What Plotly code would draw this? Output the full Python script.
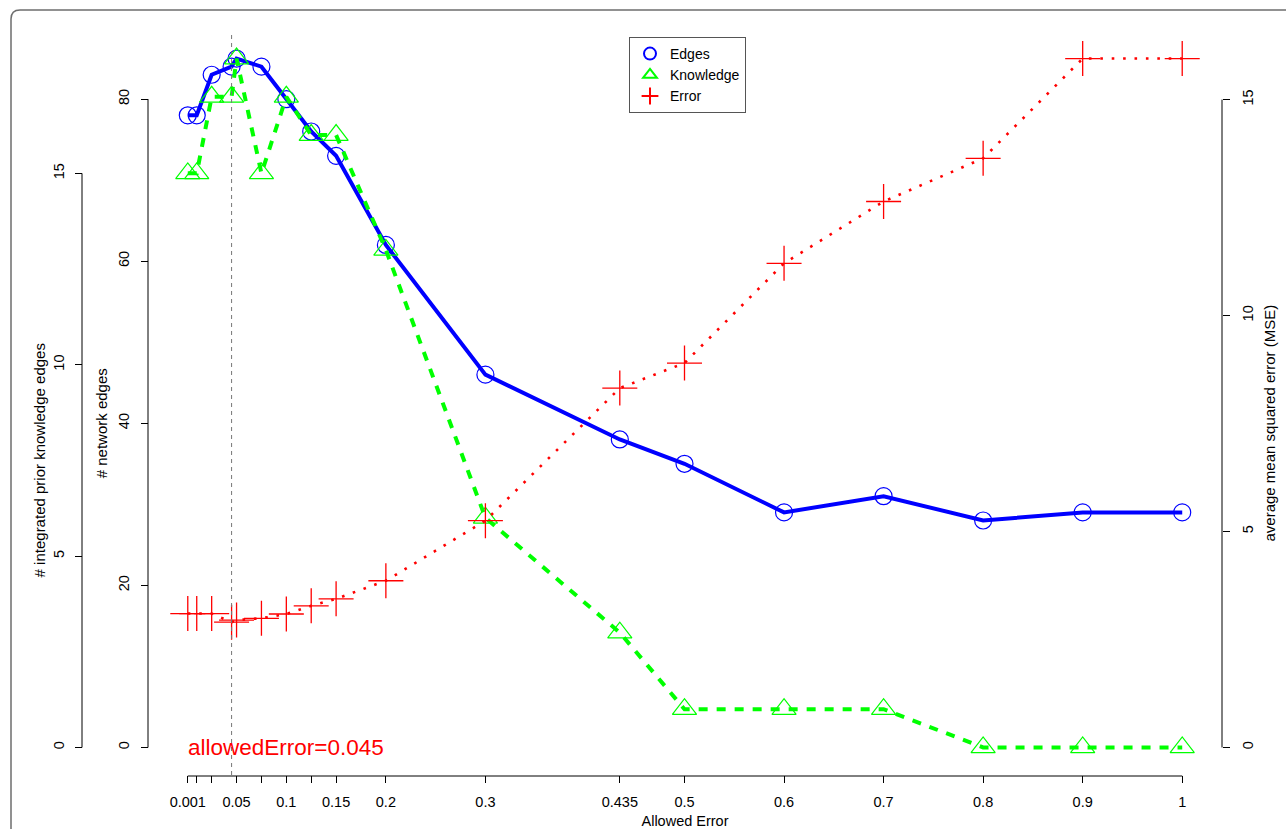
import plotly.graph_objects as go

# ---------------- data ----------------
allowed_error = [0.001, 0.01, 0.025, 0.045, 0.05, 0.075, 0.1, 0.125, 0.15, 0.2,
                 0.3, 0.435, 0.5, 0.6, 0.7, 0.8, 0.9, 1.0]
network_edges = [78, 78, 83, 84, 85, 84, 80, 76, 73, 62, 46, 38, 35, 29, 31, 28, 29, 29]
knowledge_edges = [15, 15, 17, 17, 18, 15, 17, 16, 16, 13, 6, 3, 1, 1, 1, 0, 0, 0]
mse = [3.10, 3.10, 3.10, 2.90, 2.95, 2.99, 3.09, 3.28, 3.44, 3.86,
       5.25, 8.32, 8.90, 11.21, 12.64, 13.64, 15.95, 15.95]

x_tick_vals = [0.001, 0.01, 0.025, 0.05, 0.075, 0.1, 0.125, 0.15, 0.2, 0.3,
               0.435, 0.5, 0.6, 0.7, 0.8, 0.9, 1.0]
x_tick_text = ["0.001", "", "", "0.05", "", "0.1", "", "0.15", "0.2", "0.3",
               "0.435", "0.5", "0.6", "0.7", "0.8", "0.9", "1"]
edges_ticks = [0, 20, 40, 60, 80]
knowledge_ticks = [0, 5, 10, 15]
mse_ticks = [0, 5, 10, 15]
chosen_error = 0.045
series_names = ["Edges", "Knowledge", "Error"]

# ---------------- geometry ----------------
W, H = 1286, 829
PL, PR, PT, PB = 148, 1222, 31, 775   # plot region in pixels


def X(px):
    return px / W


def Y(py):
    return 1 - py / H


FONT = "Liberation Sans, Arial, Helvetica, sans-serif"
BLUE, GREEN, RED = "#0000FF", "#00FF00", "#FF0000"

fig = go.Figure()

# lines (no legend)
fig.add_trace(go.Scatter(x=allowed_error, y=network_edges, mode="lines",
                         line=dict(color=BLUE, width=4), showlegend=False,
                         yaxis="y", hoverinfo="skip"))
fig.add_trace(go.Scatter(x=allowed_error, y=knowledge_edges, mode="lines",
                         line=dict(color=GREEN, width=4, dash="9px,9px"),
                         showlegend=False, yaxis="y2", hoverinfo="skip"))
fig.add_trace(go.Scatter(x=allowed_error, y=mse, mode="lines",
                         line=dict(color=RED, width=2.6, dash="2.6px,8.8px"),
                         showlegend=False, yaxis="y3", hoverinfo="skip"))

# markers (legend entries)
fig.add_trace(go.Scatter(x=allowed_error, y=network_edges, mode="markers",
                         name=series_names[0], yaxis="y", cliponaxis=False,
                         marker=dict(symbol="circle-open", size=17, color=BLUE,
                                     line=dict(width=1.2, color=BLUE))))
fig.add_trace(go.Scatter(x=allowed_error, y=knowledge_edges, mode="markers",
                         name=series_names[1], yaxis="y2", cliponaxis=False,
                         marker=dict(symbol="triangle-up-open", size=21, color=GREEN,
                                     line=dict(width=1.2, color=GREEN))))
fig.add_trace(go.Scatter(x=allowed_error, y=mse, mode="markers",
                         name=series_names[2], yaxis="y3", cliponaxis=False,
                         marker=dict(symbol="cross-thin-open", size=25, color=RED,
                                     line=dict(width=1.3, color=RED))))

tickfont = dict(family=FONT, size=14.5, color="black")

shapes = [
    # rounded outer frame
    dict(type="path", xref="paper", yref="paper",
         path=(f"M {X(11)},{Y(840)} L {X(11)},{Y(19)} Q {X(11)},{Y(10)} {X(20)},{Y(10)} "
               f"L {X(1295)},{Y(10)}"),
         line=dict(color="#6e6e6e", width=1.5)),
    # axis lines (R style: only spanning the tick range)
    dict(type="line", xref="x", yref="paper", x0=x_tick_vals[0], x1=x_tick_vals[-1],
         y0=Y(PB + 1), y1=Y(PB + 1), line=dict(color="black", width=1)),
    dict(type="line", xref="paper", yref="y", x0=X(PL), x1=X(PL),
         y0=edges_ticks[0], y1=edges_ticks[-1], line=dict(color="black", width=1)),
    dict(type="line", xref="paper", yref="y2", x0=X(82), x1=X(82),
         y0=knowledge_ticks[0], y1=knowledge_ticks[-1], line=dict(color="black", width=1)),
    dict(type="line", xref="paper", yref="y3", x0=X(PR), x1=X(PR),
         y0=mse_ticks[0], y1=mse_ticks[-1], line=dict(color="black", width=1)),
    # chosen allowed error marker line
    dict(type="line", xref="x", yref="paper", x0=chosen_error, x1=chosen_error,
         y0=Y(PB), y1=Y(PT), line=dict(color="#777777", width=1, dash="4px,4px")),
]

annotations = [
    dict(text="# network edges", xref="paper", yref="y", x=X(101), y=40,
         textangle=-90, showarrow=False, xanchor="center", yanchor="middle",
         font=dict(family=FONT, size=15, color="black")),
    dict(text="# integrated prior knowledge edges", xref="paper", yref="y2", x=X(39), y=7.5,
         textangle=-90, showarrow=False, xanchor="center", yanchor="middle",
         font=dict(family=FONT, size=15, color="black")),
    dict(text="average mean squared error (MSE)", xref="paper", yref="y3", x=X(1270), y=7.5,
         textangle=-90, showarrow=False, xanchor="center", yanchor="middle",
         font=dict(family=FONT, size=15, color="black")),
    dict(text=f"allowedError={chosen_error}", xref="x", yref="y", x=allowed_error[0], y=0,
         showarrow=False, xanchor="left", yanchor="middle", xshift=-2,
         font=dict(family=FONT, size=22.5, color=RED)),
]

fig.update_layout(
    width=W, height=H,
    margin=dict(l=0, r=0, t=0, b=0),
    paper_bgcolor="white", plot_bgcolor="white",
    font=dict(family=FONT, size=14.5, color="black"),
    showlegend=True,
    legend=dict(x=X(629), y=Y(37), xanchor="left", yanchor="top",
                bordercolor="#555555", borderwidth=1, bgcolor="white",
                font=dict(family=FONT, size=14, color="black"),
                itemsizing="constant", itemwidth=30, tracegroupgap=0),
    xaxis=dict(domain=[X(PL), X(PR)], range=[-0.03896, 1.03996],
               tickmode="array", tickvals=x_tick_vals, ticktext=x_tick_text,
               ticks="outside", ticklen=7, tickcolor="black", tickwidth=1,
               showline=False, showgrid=False, zeroline=False,
               tickfont=tickfont, anchor="y", ticklabelstandoff=7,
               title=dict(text="Allowed Error", font=dict(family=FONT, size=14.5),
                          standoff=8)),
    yaxis=dict(domain=[Y(PB), Y(PT)], range=[-3.4, 88.4],
               tickmode="array", tickvals=edges_ticks,
               ticks="outside", ticklen=7, tickcolor="black", tickwidth=1,
               showline=False, showgrid=False, zeroline=False,
               tickangle=-90, tickfont=tickfont, anchor="free", position=X(PL),
               ticklabelstandoff=6),
    yaxis2=dict(range=[-0.72, 18.72], overlaying="y",
                tickmode="array", tickvals=knowledge_ticks,
                ticks="outside", ticklen=7, tickcolor="black", tickwidth=1,
                showline=False, showgrid=False, zeroline=False,
                tickangle=-90, tickfont=tickfont, anchor="free", position=X(82),
                side="left", ticklabelstandoff=5),
    yaxis3=dict(range=[-0.638, 16.588], overlaying="y",
                tickmode="array", tickvals=mse_ticks,
                ticks="outside", ticklen=7, tickcolor="black", tickwidth=1,
                showline=False, showgrid=False, zeroline=False,
                tickangle=-90, tickfont=tickfont, anchor="free", position=X(PR),
                side="right", ticklabelstandoff=6),
    shapes=shapes,
    annotations=annotations,
)

fig.write_html("out.html", config={"displayModeBar": False},
               post_script="document.body.style.margin='0';")
